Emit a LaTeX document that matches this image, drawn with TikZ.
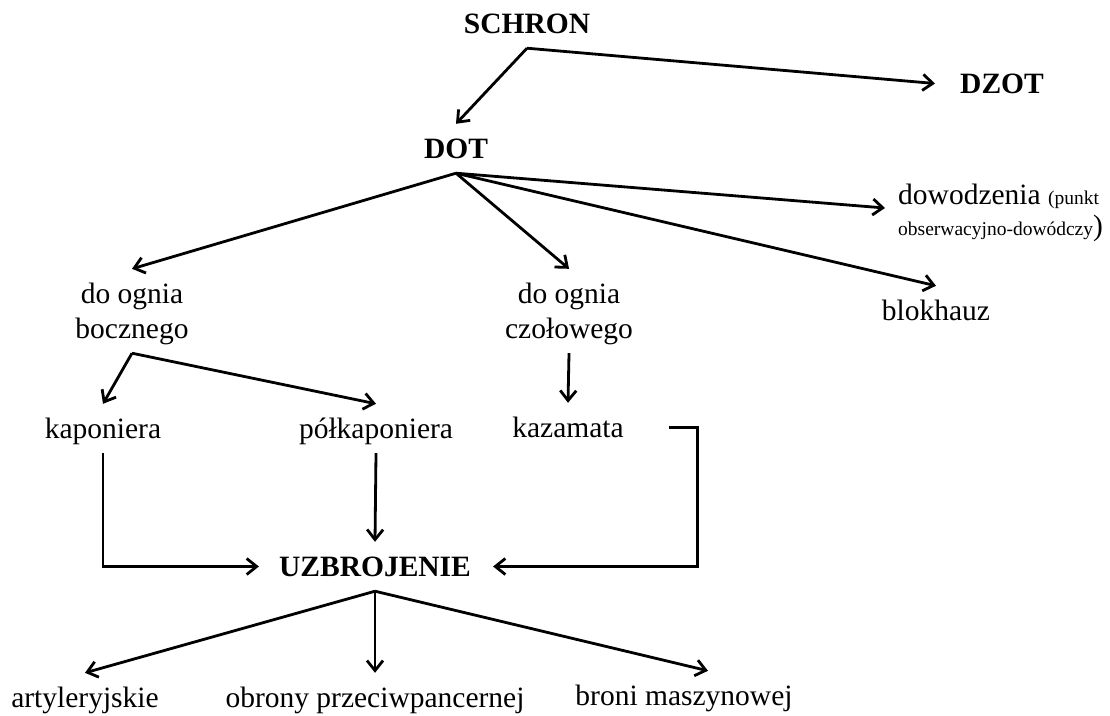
\documentclass[tikz,border=0pt]{standalone}
\usepackage{fontspec}
\setmainfont{Liberation Serif}
\usetikzlibrary{arrows.meta}
\begin{document}
\begin{tikzpicture}[x=1pt,y=-1pt,
  reg/.style={font=\fontsize{29.5}{35}\selectfont, inner xsep=4pt, inner ysep=12pt,
              text height=22pt, text depth=3pt, anchor=base},
  reg2/.style={reg, text height=57pt},
  bold/.style={reg, font=\fontsize{29.5}{35}\selectfont\bfseries},
  conn/.style={line width=2.8pt, -{Straight Barb[length=10pt,width=16pt]}},
]
\useasboundingbox (0,0) rectangle (1110,715);

% nodes
\node[bold] (schron) at (527,33) {SCHRON};
\node[bold] (dzot) at (1002,93) {DZOT};
\node[bold] (dot) at (456,158) {DOT};
\node[reg, text height=57pt, anchor=base west, inner xsep=13pt] (dow) at (885,235)
  {\fontsize{29.5}{33}\selectfont\begin{tabular}[b]{@{}l@{}}dowodzenia {\fontsize{19.5}{22}\selectfont(punkt}\\[-2pt]{\fontsize{19.5}{22}\selectfont obserwacyjno-dowódczy})\end{tabular}};
\node[reg] (blok) at (936,320) {blokhauz};
\node[reg2] (bocz) at (132,338) {\begin{tabular}[b]{@{}c@{}}do ognia\\bocznego\end{tabular}};
\node[reg2] (czol) at (569,338) {\begin{tabular}[b]{@{}c@{}}do ognia\\czołowego\end{tabular}};
\node[reg] (kap) at (103,438) {kaponiera};
\node[reg] (pol) at (376,438) {półkaponiera};
\node[reg] (kaz) at (568,437) {kazamata};
\node[bold] (uzb) at (375,576) {UZBROJENIE};
\node[reg] (art) at (85,707) {artyleryjskie};
\node[reg] (obr) at (375,707) {obrony przeciwpancernej};
\node[reg] (bro) at (684,705) {broni maszynowej};

% connectors
\draw[conn] (schron.south) -- (dot.north);
\draw[conn] (schron.south) -- ([xshift=-21pt]dzot.west);
\draw[conn] (dot.south) -- (bocz.north);
\draw[conn] (dot.south) -- (czol.north);
\draw[conn] (dot.south) -- (dow.west);
\draw[conn] (dot.south) -- (blok.north);
\draw[conn] (bocz.south) -- (kap.north);
\draw[conn] (bocz.south) -- (pol.north);
\draw[conn] (czol.south) -- (kaz.north);
\draw[conn] (kap.south) |- ([xshift=-16pt]uzb.west);
\draw[conn] (pol.south) -- (uzb.north);
\draw[conn] ([xshift=41pt]kaz.east) -- ++(29,0) |- ([xshift=18pt]uzb.east);
\draw[conn] (uzb.south) -- (art.north);
\draw[conn] (uzb.south) -- (obr.north);
\draw[conn] (uzb.south) -- ([xshift=24pt]bro.north);
\end{tikzpicture}
\end{document}
